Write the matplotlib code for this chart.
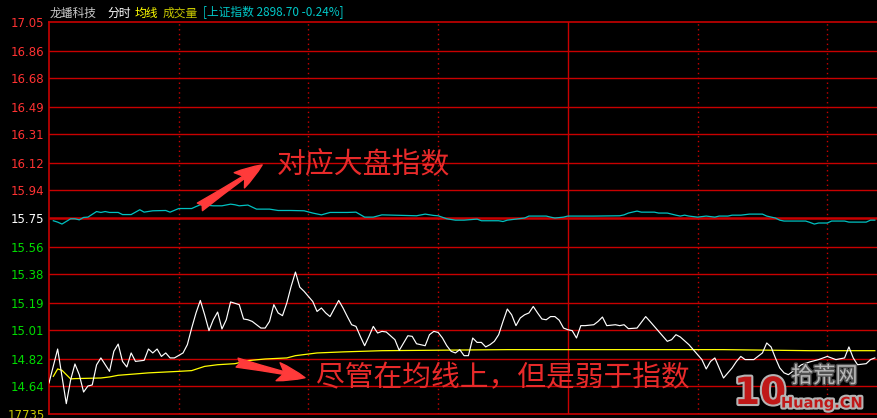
import matplotlib
matplotlib.use("Agg")
import matplotlib.pyplot as plt
import matplotlib.patheffects as pe

W, H = 877, 418

# prev close and the price scale of the terminal
prev_close = 15.75
step = 0.18536
price_labels = ["17.05", "16.86", "16.68", "16.49", "16.31", "16.12", "15.94",
                "15.75", "15.56", "15.38", "15.19", "15.01", "14.82", "14.64"]

# 分时价格 (minute, price)
price_min = [0, 2, 4, 5, 6, 7, 8, 9, 10, 11,
             12, 14, 15, 16, 17, 18, 19, 20, 22, 23,
             24, 25, 26, 27, 28, 29, 31, 32, 33, 34,
             35, 36, 37, 38, 39, 40, 41, 42, 44, 45,
             46, 47, 49, 50, 51, 52, 53, 54, 55, 56,
             57, 58, 59, 61, 62, 63, 64, 65, 67, 68,
             69, 70, 71, 72, 73, 74, 75, 76, 77, 78,
             80, 81, 83, 84, 85, 87, 88, 89, 90, 91,
             92, 93, 94, 95, 96, 97, 98, 99, 100, 101,
             102, 103, 104, 105, 106, 107, 108, 109, 110, 111,
             112, 113, 114, 115, 116, 117, 118, 119, 120, 121,
             122, 123, 124, 126, 127, 128, 129, 131, 132, 133,
             134, 136, 138, 139, 141, 143, 144, 145, 146, 148,
             149, 151, 152, 153, 154, 156, 158, 159, 160, 161,
             163, 165, 166, 167, 168, 169, 170, 171, 174, 176,
             178, 180, 182, 184, 185, 186, 187, 189, 190, 191]
price_val = [14.66, 14.885, 14.523, 14.68, 14.786, 14.715, 14.60, 14.64, 14.647, 14.78,
             14.826, 14.737, 14.87, 14.918, 14.803, 14.766, 14.859, 14.803, 14.81, 14.885,
             14.859, 14.885, 14.836, 14.859, 14.826, 14.826, 14.859, 14.914, 15.024, 15.124,
             15.207, 15.112, 15.007, 15.079, 15.13, 15.018, 15.079, 15.197, 15.179, 15.084,
             15.079, 15.068, 15.024, 15.024, 15.068, 15.179, 15.124, 15.106, 15.19, 15.30,
             15.395, 15.295, 15.267, 15.20, 15.134, 15.157, 15.124, 15.10, 15.207, 15.157,
             15.10, 15.046, 15.035, 14.969, 14.907, 14.969, 15.035, 14.991, 15.002, 14.998,
             14.947, 14.876, 14.973, 14.969, 14.92, 14.907, 14.98, 15.002, 14.995, 14.958,
             14.907, 14.87, 14.859, 14.881, 14.841, 14.841, 14.958, 14.929, 14.929, 14.899,
             14.914, 14.936, 14.98, 15.068, 15.15, 15.112, 15.04, 15.091, 15.112, 15.124,
             15.167, 15.124, 15.084, 15.079, 15.10, 15.10, 15.076, 15.024, 15.013, 15.007,
             14.958, 15.04, 15.04, 15.046, 15.068, 15.097, 15.04, 15.046, 15.04, 15.046,
             15.02, 15.024, 15.10, 15.068, 15.002, 14.936, 14.947, 14.98, 14.965, 14.914,
             14.881, 14.815, 14.753, 14.803, 14.826, 14.693, 14.76, 14.803, 14.836, 14.815,
             14.815, 14.859, 14.925, 14.899, 14.826, 14.76, 14.727, 14.715, 14.78, 14.80,
             14.815, 14.836, 14.815, 14.826, 14.899, 14.826, 14.781, 14.788, 14.815, 14.826]

# 均线
avg_min = [1, 2, 3, 5, 6, 12, 14, 16, 20, 23, 30, 33, 36, 39, 43, 46, 50, 55,
           57, 62, 68, 77, 106, 123, 156, 176, 191]
avg_val = [14.704, 14.753, 14.744, 14.687, 14.689, 14.693, 14.70, 14.711, 14.72,
           14.727, 14.737, 14.742, 14.77, 14.781, 14.788, 14.808, 14.819, 14.826,
           14.841, 14.859, 14.866, 14.874, 14.881, 14.881, 14.881, 14.874, 14.874]

# 上证指数 overlay, mapped onto the price axis
idx_min = [1, 2, 3, 5, 6, 7, 8, 9, 11, 12, 13, 14, 16, 17, 19, 21, 22, 24, 27, 28,
           30, 33, 34, 35, 38, 40, 42, 43, 44, 46, 48, 51, 53, 56, 59, 61, 63, 65, 69, 71,
           73, 75, 77, 85, 87, 89, 90, 92, 94, 96, 99, 100, 104, 105, 106, 108, 110, 111, 115, 116,
           117, 119, 120, 125, 126, 132, 133, 134, 136, 137, 140, 141, 143, 145, 146, 147, 148, 150, 152, 154,
           155, 157, 158, 160, 162, 165, 166, 168, 169, 170, 175, 176, 177, 178, 180, 181, 184, 185, 189, 190,
           191]
idx_val = [15.735, 15.726, 15.713, 15.748, 15.748, 15.741, 15.757, 15.759, 15.796, 15.79,
           15.796, 15.79, 15.79, 15.776, 15.776, 15.808, 15.792, 15.801, 15.803, 15.792,
           15.816, 15.816, 15.829, 15.841, 15.834, 15.834, 15.845, 15.841, 15.834, 15.839,
           15.812, 15.812, 15.803, 15.803, 15.801, 15.786, 15.774, 15.79, 15.79, 15.792,
           15.759, 15.759, 15.774, 15.768, 15.779, 15.77, 15.768, 15.748, 15.739, 15.739,
           15.746, 15.735, 15.735, 15.73, 15.739, 15.746, 15.753, 15.766, 15.766, 15.759,
           15.753, 15.759, 15.766, 15.766, 15.766, 15.768, 15.774, 15.786, 15.799, 15.792,
           15.792, 15.786, 15.786, 15.772, 15.766, 15.772, 15.766, 15.759, 15.766, 15.759,
           15.766, 15.766, 15.772, 15.772, 15.779, 15.779, 15.766, 15.753, 15.739, 15.733,
           15.733, 15.724, 15.713, 15.72, 15.72, 15.733, 15.733, 15.726, 15.726, 15.739,
           15.739]

GRID = "#c80000"
CJK = ["Noto Sans CJK SC", "DejaVu Sans"]


def fx(px):
    return px / W


def fy(py):
    return 1 - py / H


fig = plt.figure(figsize=(W / 100, H / 100), dpi=100, facecolor="black")
ax = fig.add_axes([fx(49), fy(414.3), fx(828), 392 / H], facecolor="black")
ax.set_xlim(0, 191.5)
ax.set_ylim(prev_close - 7 * step, prev_close + 7 * step)

for s in ("left", "top", "bottom"):
    ax.spines[s].set_color(GRID)
    ax.spines[s].set_linewidth(1.2)
ax.spines["right"].set_visible(False)
ax.set_xticks([])

levels = [float(v) for v in price_labels]
ax.set_yticks(levels, labels=price_labels)
ax.tick_params(axis="y", length=0, pad=3.5, labelsize=8.5)
for lab, v in zip(ax.get_yticklabels(), levels):
    if abs(v - prev_close) < 1e-6:
        lab.set_color("white")
    elif v > prev_close:
        lab.set_color("#ff3232")
    else:
        lab.set_color("#00dc00")

for v in levels[1:]:
    lw = 1.8 if abs(v - prev_close) < 1e-6 else 1.0
    ax.axhline(v, color=GRID, lw=lw, zorder=1)
for m in (30, 60, 90, 150, 180):
    ax.axvline(m, color=GRID, lw=1.0, ls=(0, (1, 2.5)), zorder=1)
ax.axvline(120, color=GRID, lw=1.0, zorder=1)

ax.plot(idx_min, idx_val, color="#00c0c0", lw=0.9, zorder=3)
ax.plot(avg_min, avg_val, color="#ffff00", lw=0.9, zorder=3)
ax.plot(price_min, price_val, color="white", lw=0.85, zorder=4)

# annotations
arrow = dict(arrowstyle="fancy,head_length=0.9,head_width=0.6,tail_width=0.3",
             color="#ff3a3a", mutation_scale=22, shrinkA=0, shrinkB=0)
ax.annotate("", xy=(49.3, 16.105), xytext=(34.9, 15.827), arrowprops=arrow, zorder=6)
ax.annotate("", xy=(59.2, 14.695), xytext=(43.5, 14.795), arrowprops=arrow, zorder=6)
ax.text(52.7, 16.105, "对应大盘指数", color="#e82a2a", fontsize=20.8, family=CJK,
        va="center", ha="left", zorder=6)
ax.text(61.8, 14.689, "尽管在均线上，但是弱于指数", color="#e82a2a", fontsize=20.7,
        family=CJK, va="center", ha="left", zorder=6)

# header
hy = fy(13)
fig.text(fx(50), hy, "龙蟠科技", color="#c8c8c8", fontsize=8.5, family=CJK, va="center")
fig.text(fx(107), hy, "分时", color="white", fontsize=8.5, family=CJK, va="center")
fig.text(fx(135), hy, "均线", color="#ffff00", fontsize=8.5, family=CJK, va="center")
fig.text(fx(163), hy, "成交量", color="#c8c800", fontsize=8.5, family=CJK, va="center")
fig.text(fx(203), hy, "[上证指数 2898.70 -0.24%]", color="#00c8c8", fontsize=8.5,
         family=CJK, va="center")

# volume panel label, cut by the bottom edge
fig.text(fx(44.5), fy(409), "17735", color="#c8c800", fontsize=8.5, ha="right", va="top")

# watermark
gray = [pe.withStroke(linewidth=3, foreground="#b4b4b4")]
dark = [pe.withStroke(linewidth=2, foreground="#505050")]
fig.text(fx(734), fy(412), "10", color="#c01818", fontsize=27, fontweight="bold",
         family="DejaVu Sans", va="bottom", ha="left", path_effects=gray)
fig.text(fx(791), fy(376), "拾荒网", color="#b8b8b8", fontsize=16, family=CJK,
         va="center", ha="left", path_effects=dark)
fig.text(fx(781), fy(403), "Huang.CN", color="#c01818", fontsize=10.5, fontweight="bold",
         va="center", ha="left", path_effects=gray)

fig.savefig("out.png", dpi=100, facecolor="black")
